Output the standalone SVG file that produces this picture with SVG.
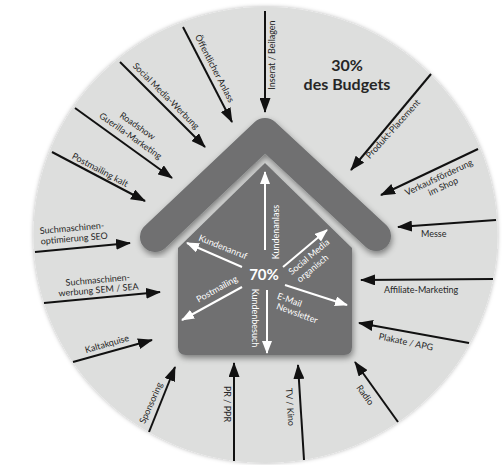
<svg xmlns="http://www.w3.org/2000/svg" width="502" height="465" viewBox="0 0 502 465">
  <style>
    text { font-family: Lato, "Open Sans", "Liberation Sans", sans-serif; }
    .lbl { font-size: 9px; fill: #262626; text-anchor: middle; }
    .lbs { font-size: 9px; fill: #262626; text-anchor: start; }
    .in { font-size: 9px; fill: #ffffff; text-anchor: middle; }
    .big { font-size: 16px; font-weight: bold; fill: #262626; text-anchor: middle; }
    .pct { font-size: 15px; font-weight: bold; fill: #ffffff; text-anchor: middle; }
    .out { stroke: #111; stroke-width: 2; fill: none; marker-end: url(#ah); }
    .inn { stroke: #fff; stroke-width: 2; fill: none; marker-end: url(#ahw); }
    .house { fill: #6f7071; }
  </style>
  <defs>
    <marker id="ah" markerUnits="userSpaceOnUse" markerWidth="15" markerHeight="11" viewBox="0 0 15 11" refX="14" refY="5.5" orient="auto">
      <path d="M0,0 L15,5.5 L0,11 Z" fill="#111"/>
    </marker>
    <marker id="ahw" markerUnits="userSpaceOnUse" markerWidth="13" markerHeight="10" viewBox="0 0 13 10" refX="12" refY="5" orient="auto">
      <path d="M0,0 L13,5 L0,10 Z" fill="#fff"/>
    </marker>
    <filter id="sh" x="-20%" y="-20%" width="140%" height="140%">
      <feDropShadow dx="1" dy="3" stdDeviation="3" flood-color="#000" flood-opacity="0.45"/>
    </filter>
    <filter id="rim" x="-5%" y="-5%" width="110%" height="110%">
      <feDropShadow dx="0" dy="0" stdDeviation="2" flood-color="#000" flood-opacity="0.3"/>
    </filter>
  </defs>

  <rect width="502" height="465" fill="#ffffff"/>

  <!-- backdrop disc -->
  <ellipse id="disc" cx="265.5" cy="235" rx="232" ry="228" fill="#dddedd" filter="url(#rim)"/>

  <!-- house -->
  <g id="roof" filter="url(#sh)">
    <polyline points="155,237 265,133 376,236" fill="none" stroke="#6f7071" stroke-width="30" stroke-linecap="round" stroke-linejoin="round"/>
  </g>
  <g id="body" filter="url(#sh)">
    <path class="house" d="M178,248 L265,163 L352,248 L352,347 Q352,355 344,355 L186,355 Q178,355 178,347 Z"/>
  </g>

  <!-- outer channel arrows -->
  <g id="connectors">
    <line class="out" x1="183" y1="27" x2="232" y2="122"/>
    <line class="out" x1="120" y1="62" x2="205" y2="147"/>
    <line class="out" x1="75" y1="108" x2="172" y2="178"/>
    <line class="out" x1="52" y1="152" x2="145" y2="201"/>
    <line class="out" x1="35" y1="252" x2="130" y2="243"/>
    <line class="out" x1="44" y1="303" x2="160" y2="292"/>
    <line class="out" x1="73" y1="362" x2="152" y2="340"/>
    <line class="out" x1="149" y1="432" x2="175" y2="367"/>
    <line class="out" x1="234" y1="461" x2="234" y2="363"/>
    <line class="out" x1="304" y1="460" x2="298" y2="365"/>
    <line class="out" x1="398" y1="422" x2="355" y2="362"/>
    <line class="out" x1="469" y1="343" x2="359" y2="323"/>
    <line class="out" x1="493" y1="279" x2="361" y2="280"/>
    <line class="out" x1="496" y1="220" x2="398" y2="227"/>
    <line class="out" x1="478" y1="149" x2="381" y2="195"/>
    <line class="out" x1="431" y1="74" x2="351" y2="170"/>
    <line class="out" x1="265" y1="11" x2="265" y2="112"/>

    <!-- inner arrows -->
    <line class="inn" x1="265" y1="250" x2="265" y2="172"/>
    <line class="inn" x1="242" y1="267" x2="187" y2="243"/>
    <line class="inn" x1="242" y1="287" x2="182" y2="320"/>
    <line class="inn" x1="267" y1="290" x2="267" y2="353"/>
    <line class="inn" x1="285" y1="285" x2="347" y2="305"/>
    <line class="inn" x1="283" y1="267" x2="327" y2="230"/>
  </g>

  <!-- outer labels -->
  <g id="outer-labels">
    <text class="lbl" transform="translate(214.5,68.5) rotate(62.7)" y="3">Öffentlicher Anlass</text>
    <text class="lbl" transform="translate(166,96) rotate(45)" y="3">Social Media-Werbung</text>
    <g transform="translate(134,131) rotate(35)">
      <text class="lbl" y="-3">Roadshow</text>
      <text class="lbl" y="9">Guerilla-Marketing</text>
    </g>
    <text class="lbl" transform="translate(100,170) rotate(28)" y="3">Postmailing kalt</text>
    <g transform="translate(40,234) rotate(-5)">
      <text class="lbs">Suchmaschinen-</text>
      <text class="lbs" y="10.5">optimierung SEO</text>
    </g>
    <g transform="translate(98,283) rotate(-5)">
      <text class="lbl">Suchmaschinen-</text>
      <text class="lbl" y="10">werbung SEM / SEA</text>
    </g>
    <text class="lbl" transform="translate(107,344) rotate(-16)" y="3">Kaltakquise</text>
    <text class="lbl" transform="translate(151,403) rotate(-66)" y="3">Sponsoring</text>
    <text class="lbl" transform="translate(227,404) rotate(90)" y="3">PR / PPR</text>
    <text class="lbl" transform="translate(290,407) rotate(86)" y="3">TV / Kino</text>
    <text class="lbl" transform="translate(365,395) rotate(54)" y="3">Radio</text>
    <text class="lbl" transform="translate(406,342) rotate(12)" y="3">Plakate / APG</text>
    <text class="lbs" x="384" y="293">Affiliate-Marketing</text>
    <text class="lbs" x="421" y="237">Messe</text>
    <g transform="translate(441,182) rotate(-25)">
      <text class="lbl" y="-2">Verkaufsförderung</text>
      <text class="lbl" y="8">im Shop</text>
    </g>
    <text class="lbl" transform="translate(393,129) rotate(-48)" y="3">Produkt-Placement</text>
    <text class="lbl" transform="translate(272,55) rotate(-90)" y="3">Inserat / Beilagen</text>
  </g>

  <!-- budget share -->
  <g id="budget">
    <text class="big" x="347" y="71">30%</text>
    <text class="big" x="347" y="90">des Budgets</text>
  </g>

  <!-- inner labels -->
  <g id="inner-labels">
    <text class="pct" x="264" y="280">70%</text>
    <text class="in" transform="translate(276,232) rotate(-90)" y="3">Kundenanlass</text>
    <text class="in" transform="translate(223,247) rotate(22)" y="3">Kundenanruf</text>
    <text class="in" transform="translate(217,289) rotate(-29)" y="3">Postmailing</text>
    <text class="in" transform="translate(255,318) rotate(90)" y="3">Kundenbesuch</text>
    <g transform="translate(289.5,300) rotate(20)">
      <text class="in" y="3">E-Mail</text>
      <text class="in" x="11.7" y="13">Newsletter</text>
    </g>
    <g transform="translate(309,257) rotate(-40)">
      <text class="in" y="3">Social Media</text>
      <text class="in" x="-4.5" y="14">organisch</text>
    </g>
  </g>
</svg>
